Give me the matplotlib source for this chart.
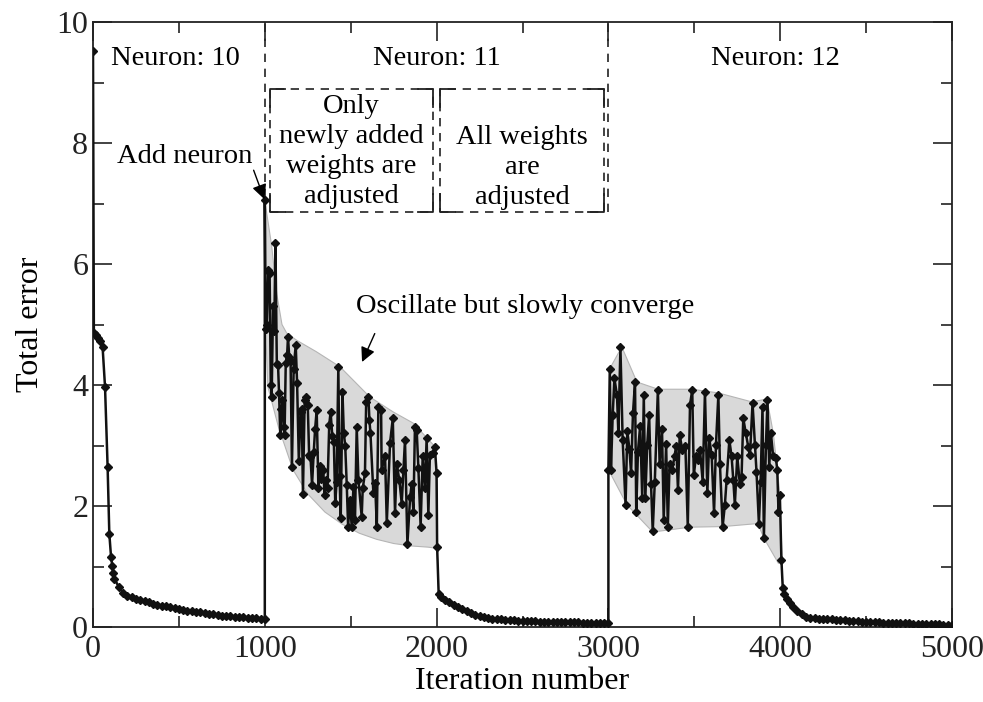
import matplotlib
matplotlib.use("Agg")
import matplotlib.pyplot as plt
from matplotlib.patches import Polygon

plt.rcParams['font.family'] = ['Liberation Serif', 'DejaVu Serif']

# ---------------- data ----------------
# Neuron 10 : initial training
seg0_x = [0, 5, 15, 28, 42, 56, 70, 85, 95, 105, 112, 118] + list(range(125, 1001, 25))
seg0_y = [9.52, 4.86, 4.82, 4.78, 4.72, 4.62, 3.97, 2.65, 1.54, 1.16, 1.01, 0.89,
          0.80, 0.66, 0.57, 0.52, 0.49, 0.465, 0.445, 0.425, 0.405, 0.385, 0.37, 0.355,
          0.34, 0.325, 0.31, 0.295, 0.28, 0.27, 0.26, 0.25, 0.24, 0.23, 0.22, 0.21,
          0.20, 0.19, 0.185, 0.18, 0.17, 0.165, 0.16, 0.155, 0.15, 0.145, 0.14, 0.13]

# Neuron 11 : only newly added weights adjusted (oscillation)
segA_x = [1000, 1005, 1012, 1020, 1028, 1035, 1040, 1048, 1055, 1062, 1070, 1077, 1083,
          1090, 1097, 1103, 1110, 1115, 1122, 1130, 1135, 1142, 1150, 1158, 1168, 1180,
          1188, 1198, 1208, 1215, 1222, 1232, 1240, 1250, 1258, 1266, 1275, 1285, 1293,
          1302, 1312, 1322, 1330, 1340, 1348, 1357, 1365, 1375, 1383, 1393, 1402, 1410,
          1418, 1428, 1435, 1442, 1452, 1460, 1468, 1477, 1485, 1495, 1506, 1516, 1525,
          1535, 1545, 1564, 1570, 1583, 1590, 1603, 1609, 1615, 1632, 1642, 1652, 1661,
          1677, 1680, 1700, 1710, 1729, 1745, 1758, 1768, 1783, 1797, 1807, 1816, 1830,
          1846, 1855, 1865, 1874, 1884, 1894, 1907, 1919, 1932, 1942, 1952, 1961, 1977,
          1990, 2000, 2003]
segA_y = [7.05, 4.92, 5.00, 5.90, 5.85, 4.00, 3.80, 5.30, 4.90, 6.34, 4.35, 4.33, 3.86,
          3.17, 3.60, 3.75, 3.30, 3.17, 4.37, 4.50, 4.80, 4.47, 4.40, 2.65, 4.27, 4.66,
          4.03, 2.75, 3.55, 3.60, 2.20, 3.75, 3.80, 3.67, 2.85, 2.81, 2.35, 2.90, 3.28,
          3.58, 2.30, 2.66, 2.45, 2.60, 2.18, 2.43, 2.30, 3.34, 3.56, 3.15, 3.05, 2.05,
          2.40, 4.29, 2.50, 1.80, 3.89, 3.20, 3.00, 2.35, 1.66, 2.10, 1.66, 2.32, 1.77,
          3.31, 2.43, 1.82, 2.29, 2.54, 3.72, 3.80, 3.42, 3.20, 2.21, 2.38, 1.66, 3.63,
          3.59, 2.60, 2.82, 1.72, 3.04, 3.45, 1.88, 2.70, 2.43, 2.04, 2.60, 3.09, 1.37,
          2.15, 2.37, 1.90, 3.31, 3.26, 2.62, 1.66, 2.82, 2.29, 3.12, 1.85, 2.84, 2.87,
          2.98, 2.54, 1.33]

# Neuron 11 : all weights adjusted
segA2_x = [2012] + list(range(2025, 3001, 25))
segA2_y = [0.55, 0.50, 0.45, 0.41, 0.37, 0.33, 0.29, 0.26, 0.23, 0.20, 0.18, 0.165,
           0.15, 0.14, 0.132, 0.125, 0.12, 0.115, 0.11, 0.105, 0.10, 0.097, 0.094,
           0.092, 0.09, 0.088, 0.086, 0.084, 0.082, 0.08, 0.078, 0.077, 0.076, 0.075,
           0.074, 0.073, 0.072, 0.071, 0.07, 0.069, 0.068]

# Neuron 12 : oscillation
segB_x = [3000, 3008, 3015, 3025, 3035, 3050, 3058, 3070, 3083, 3100, 3110, 3122, 3132,
          3143, 3155, 3162, 3172, 3185, 3197, 3206, 3215, 3226, 3237, 3248, 3258, 3270,
          3288, 3298, 3312, 3322, 3336, 3346, 3356, 3372, 3385, 3395, 3405, 3415, 3430,
          3448, 3462, 3475, 3488, 3497, 3510, 3524, 3533, 3549, 3562, 3576, 3587, 3601,
          3615, 3626, 3640, 3649, 3665, 3678, 3688, 3704, 3717, 3727, 3736, 3750, 3765,
          3775, 3785, 3800, 3814, 3824, 3839, 3853, 3862, 3876, 3886, 3897, 3905, 3917,
          3926, 3936, 3946, 3959, 3975, 3983, 3990, 3998, 4007, 4015]
segB_y = [2.60, 4.27, 2.60, 3.50, 4.11, 3.83, 3.20, 4.62, 3.09, 2.02, 3.24, 2.95, 2.54,
          3.53, 4.05, 1.90, 2.90, 3.33, 2.13, 3.83, 2.13, 3.01, 3.51, 2.37, 1.58, 2.40,
          3.92, 2.70, 3.28, 1.77, 3.03, 1.66, 2.70, 2.60, 2.82, 3.00, 2.26, 3.17, 2.93,
          3.00, 1.66, 3.67, 3.92, 2.51, 2.82, 2.76, 2.93, 2.40, 3.89, 2.21, 3.12, 2.84,
          1.88, 3.01, 3.83, 2.70, 1.66, 2.02, 2.43, 3.09, 2.82, 2.43, 2.02, 2.82, 2.37,
          2.48, 3.45, 3.20, 2.98, 2.84, 3.70, 3.01, 2.57, 1.71, 2.40, 3.64, 1.47, 3.01,
          3.75, 2.65, 3.20, 2.82, 2.79, 2.60, 1.90, 2.18, 1.11, 0.64]

segB2_x = [4025, 4040, 4055, 4075] + list(range(4100, 5001, 25))
segB2_y = [0.55, 0.47, 0.40, 0.33, 0.27, 0.21, 0.17, 0.155, 0.145, 0.14, 0.135, 0.13,
           0.125, 0.12, 0.115, 0.11, 0.105, 0.10, 0.095, 0.09, 0.087, 0.084, 0.08,
           0.077, 0.074, 0.071, 0.068, 0.065, 0.062, 0.06, 0.058, 0.055, 0.053, 0.05,
           0.048, 0.046, 0.044, 0.042, 0.04, 0.038, 0.036]

# shaded envelopes (upper boundary then lower boundary back)
envA_upper_x = [1000, 1040, 1070, 1100, 1127, 1185, 1300, 1438, 1612, 1750, 1864, 1991, 2003]
envA_upper_y = [7.05, 6.3, 5.5, 5.0, 4.86, 4.74, 4.55, 4.3, 3.8, 3.55, 3.37, 2.98, 1.33]
envA_lower_x = [2012, 2003, 1950, 1850, 1750, 1650, 1550, 1450, 1350, 1250, 1164, 1080, 1018, 1005]
envA_lower_y = [0.55, 1.30, 1.32, 1.34, 1.38, 1.45, 1.55, 1.70, 1.90, 2.20, 2.60, 3.30, 3.97, 4.9]

envB_upper_x = [3000, 3008, 3078, 3166, 3289, 3487, 3638, 3836, 3923, 3960, 4000, 4015]
envB_upper_y = [2.60, 4.27, 4.63, 4.05, 3.93, 3.93, 3.87, 3.72, 3.77, 3.20, 2.15, 0.64]
envB_lower_x = [4007, 3990, 3905, 3870, 3667, 3475, 3258, 3108, 3000]
envB_lower_y = [1.11, 1.05, 1.47, 1.71, 1.66, 1.65, 1.57, 2.02, 2.60]

region_labels = ["Neuron: 10", "Neuron: 11", "Neuron: 12"]
region_label_x = [480, 2000, 3975]
x_ticks = [0, 1000, 2000, 3000, 4000, 5000]
y_ticks = [0, 2, 4, 6, 8, 10]

# ---------------- figure ----------------
fig = plt.figure(figsize=(9.83, 7.02), dpi=100)
ax = fig.add_axes([93 / 983, 75 / 702, (952 - 93) / 983, (627 - 22) / 702])

fill_c = '#d9d9d9'
edge_c = '#b5b5b5'
ax.add_patch(Polygon(list(zip(envA_upper_x + envA_lower_x, envA_upper_y + envA_lower_y)),
                     closed=True, facecolor=fill_c, edgecolor=edge_c, lw=0.8, zorder=1))
ax.add_patch(Polygon(list(zip(envB_upper_x + envB_lower_x, envB_upper_y + envB_lower_y)),
                     closed=True, facecolor=fill_c, edgecolor=edge_c, lw=0.8, zorder=1))

all_x = seg0_x + segA_x + segA2_x + segB_x + segB2_x
all_y = seg0_y + segA_y + segA2_y + segB_y + segB2_y
ax.plot(all_x, all_y, color='#111111', lw=1.8, marker='D', ms=4.2,
        markerfacecolor='#111111', markeredgecolor='#111111', zorder=3)

# dashed region separators
ax.plot([1000, 1000], [7.1, 10], color='#222222', lw=1.2, ls=(0, (5, 4)), zorder=2)
ax.plot([3000, 3000], [6.86, 10], color='#222222', lw=1.2, ls=(0, (5, 4)), zorder=2)

# boxes with solid corners
def corner_box(x0, x1, y0, y1):
    ax.plot([x0, x1, x1, x0, x0], [y0, y0, y1, y1, y0], color='#222222', lw=1.2,
            ls=(0, (5, 4)), zorder=2)
    cx, cy = 90, 0.3
    for (xc, sx) in [(x0, 1), (x1, -1)]:
        for (yc, sy) in [(y0, 1), (y1, -1)]:
            ax.plot([xc + sx * cx, xc, xc], [yc, yc, yc + sy * cy], color='#222222',
                    lw=1.3, zorder=2)

corner_box(1030, 1979, 6.86, 8.89)
corner_box(2020, 2974, 6.86, 8.89)

fs = 20.5
for lab, lx in zip(region_labels, region_label_x):
    ax.text(lx, 9.4, lab, ha='center', va='center', fontsize=fs)

ax.text(1503, 7.86, "Only\nnewly added\nweights are\nadjusted", ha='center', va='center',
        fontsize=fs, linespacing=1.27)
ax.text(2497, 7.6, "All weights\nare\nadjusted", ha='center', va='center',
        fontsize=fs, linespacing=1.27)

ax.text(535, 7.77, "Add neuron", ha='center', va='center', fontsize=fs)
ax.annotate("", xy=(1000, 7.05), xytext=(935, 7.55),
            arrowprops=dict(arrowstyle='-|>', color='black', lw=1.0, mutation_scale=22,
                            shrinkA=0, shrinkB=1))
ax.text(2515, 5.29, "Oscillate but slowly converge", ha='center', va='center', fontsize=fs)
ax.annotate("", xy=(1566, 4.38), xytext=(1640, 4.85),
            arrowprops=dict(arrowstyle='-|>', color='black', lw=1.0, mutation_scale=22,
                            shrinkA=0, shrinkB=0))

ax.set_xlim(0, 5000)
ax.set_ylim(0, 10)
ax.set_xticks(x_ticks)
ax.set_yticks(y_ticks)
ax.set_xticks(range(500, 5000, 1000), minor=True)
ax.set_yticks(range(1, 10, 2), minor=True)
ax.tick_params(which='both', direction='in', top=True, right=True, labelsize=23,
               width=1.2, colors='#222222')
ax.tick_params(which='major', length=14)
ax.tick_params(which='minor', length=8)
ax.tick_params(axis='x', pad=6)
for s in ax.spines.values():
    s.set_linewidth(1.3)
    s.set_color('#222222')

ax.set_xlabel("Iteration number", fontsize=23, labelpad=2)
ax.set_ylabel("Total error", fontsize=23, labelpad=8)

fig.savefig("out.png", dpi=100)
